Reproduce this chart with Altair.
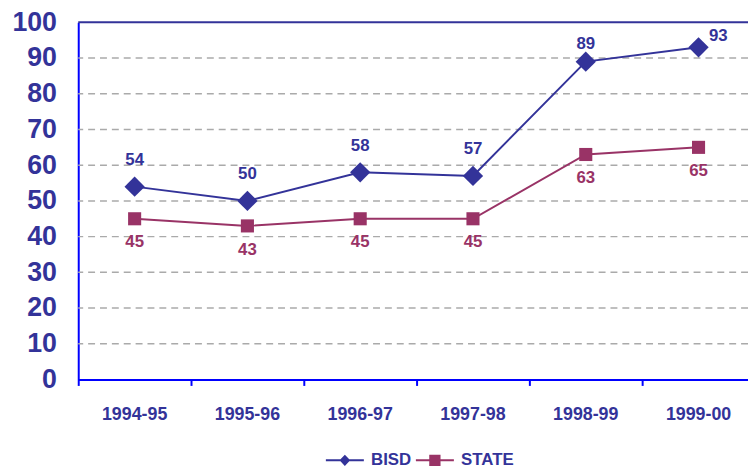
import altair as alt
import pandas as pd

years = ["1994-95", "1995-96", "1996-97", "1997-98", "1998-99", "1999-00"]
bisd = [54, 50, 58, 57, 89, 93]
state = [45, 43, 45, 45, 63, 65]
series = ["BISD", "STATE"]
colors = ["#333399", "#993366"]
y_ticks = list(range(0, 101, 10))
grid_vals = list(range(10, 100, 10))
top_val = [100]

df = pd.DataFrame({
    "year": years * 2,
    "value": bisd + state,
    "series": ["BISD"] * len(years) + ["STATE"] * len(years),
})
grid_df = pd.DataFrame({"g": grid_vals})
top_df = pd.DataFrame({"t": top_val})

FONT = "Liberation Sans"
NAVY = "#333399"
BLUE = "#0000FF"
W, H = 677, 361
XRANGE = 684

xscale = alt.Scale(type="band", domain=years, range=[0, XRANGE], paddingInner=0, paddingOuter=0)
yscale = alt.Scale(domain=[0, 100], nice=False)
cscale = alt.Scale(range=colors)

xaxis = alt.Axis(title=None, bandPosition=0, labelAngle=0, labelFont=FONT,
                 labelFontSize=18, labelFontWeight="bold", labelColor=NAVY,
                 labelPadding=20, tickColor=BLUE, tickSize=6, tickWidth=2,
                 domainColor=BLUE, domainWidth=2, grid=False, labelOverlap=False)
yaxis = alt.Axis(title=None, values=y_ticks, ticks=False, labelFont=FONT,
                 labelFontSize=27, labelFontWeight="bold", labelColor=NAVY,
                 labelPadding=22, domainColor=BLUE, domainWidth=2, grid=False,
                 labelOverlap=False, tickCount=11)

x = alt.X("year:N", sort=years, scale=xscale, axis=xaxis)
y = alt.Y("value:Q", scale=yscale, axis=yaxis)
color = alt.Color("series:N", scale=cscale, legend=None)

grid = alt.Chart(grid_df).mark_rule(color="#aaaaaa", strokeWidth=1.5, strokeDash=[7, 5]).encode(
    y=alt.Y("g:Q", scale=yscale, axis=yaxis)
)
top = alt.Chart(top_df).mark_rule(color=NAVY, strokeWidth=2).encode(
    y=alt.Y("t:Q", scale=yscale, axis=yaxis)
)

lines = alt.Chart(df).mark_line(strokeWidth=2).encode(x=x, y=y, color=color)

pts_b = alt.Chart(df).transform_filter("datum.series == 'BISD'").mark_point(
    shape="diamond", filled=True, size=420, opacity=1).encode(x=x, y=y, color=color)
pts_s = alt.Chart(df).transform_filter("datum.series == 'STATE'").mark_point(
    shape="square", filled=True, size=175, opacity=1).encode(x=x, y=y, color=color)

lab_b = alt.Chart(df).transform_filter("datum.series == 'BISD' && datum.value < 90").transform_calculate(
    ly="min(datum.value + 7.5, 94)"
).mark_text(font=FONT, fontSize=17, fontWeight="bold", baseline="middle").encode(
    x=x, y=alt.Y("ly:Q", scale=yscale, axis=yaxis), text=alt.Text("value:Q"), color=color)
lab_b_top = alt.Chart(df).transform_filter("datum.series == 'BISD' && datum.value >= 90").mark_text(
    font=FONT, fontSize=17, fontWeight="bold", baseline="middle", dx=20, dy=-11).encode(
    x=x, y=y, text=alt.Text("value:Q"), color=color)
lab_s = alt.Chart(df).transform_filter("datum.series == 'STATE'").mark_text(
    font=FONT, fontSize=17, fontWeight="bold", baseline="middle", dy=24).encode(
    x=x, y=y, text=alt.Text("value:Q"), color=color)

diamond_path = "M-3.2,-0.17H3.2V0.17H-3.2Z M-0.9,0L0,-0.95L0.9,0L0,0.95Z"
square_path = "M-3.2,-0.17H3.2V0.17H-3.2Z M-0.95,-0.95H0.95V0.95H-0.95Z"

leg = alt.Legend(title=None, orient="none", legendX=261, legendY=434, direction="horizontal",
                 symbolSize=144, symbolStrokeWidth=0, symbolOpacity=1, labelFont=FONT,
                 labelFontSize=17, labelFontWeight="bold", labelColor=NAVY,
                 labelOffset=18, columnPadding=4)

legend_layer = alt.Chart(df).transform_filter("false").mark_point(filled=True).encode(
    x=x, y=y,
    fill=alt.Fill("series:N", scale=alt.Scale(domain=series, range=colors), legend=leg),
    shape=alt.Shape("series:N", scale=alt.Scale(domain=series, range=[diamond_path, square_path]), legend=leg),
)

chart = alt.layer(grid, top, lines, pts_b, pts_s, lab_b, lab_b_top, lab_s, legend_layer).properties(
    width=W, height=H,
    background="white",
    autosize=alt.AutoSizeParams(type="none"),
    padding={"left": 71, "top": 12, "right": 0, "bottom": 90},
).configure_view(stroke=None)

chart.save("out.html", embed_options={"renderer": "svg", "actions": False})
